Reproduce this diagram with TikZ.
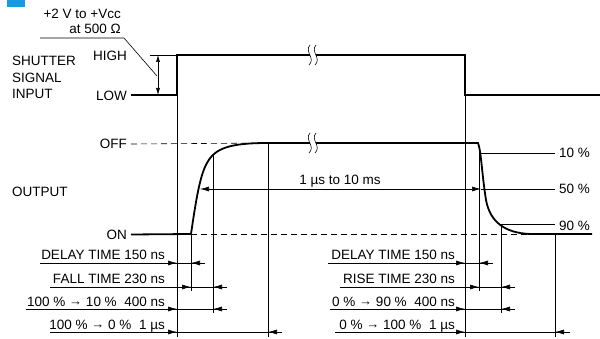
\documentclass[tikz,border=0pt]{standalone}
\usepackage{fontspec}
\setmainfont{Liberation Sans}
\usetikzlibrary{arrows.meta}
\definecolor{tabblue}{RGB}{20,155,225}
\newcommand{\pto}{\raisebox{0.5pt}{\fontsize{13}{13}\selectfont →}}

\begin{document}
\begin{tikzpicture}[x=1pt,y=-1pt,
  sig/.style={line width=1.8pt},
  guide/.style={line width=0.6pt},
  dimline/.style={line width=0.6pt,-{Latex[length=9pt,width=5pt]}},
  lbl/.style={inner sep=0pt,font=\fontsize{13.5}{16}\selectfont}
]
  \useasboundingbox (0,0) rectangle (600,339);
  \fill[tabblue] (7,0) rectangle (25,7);

  % input signal
  \node[lbl,anchor=base west] (shutter) at (12,66) {SHUTTER};
  \node[lbl,anchor=base west] (signal) at (12,82.5) {SIGNAL};
  \node[lbl,anchor=base west] (input) at (12,99) {INPUT};
  \node[lbl,anchor=east] (high) at (127,56) {HIGH};
  \node[lbl,anchor=east] (low) at (127,95.5) {LOW};
  \node[lbl,anchor=base east] (volt) at (121,19) {+2 V to +Vcc};
  \node[lbl,anchor=base east] (ohm) at (121,34) {at 500 Ω};

  \draw[sig] (131,95) -- (177,95) -- (177,55) -- (465,55) -- (465,95) -- (600,95);
  \draw[guide] (150,55) -- (177,55);
  \draw[guide,{Latex[length=7pt,width=4pt]}-{Latex[length=7pt,width=4pt]}] (158,55) -- (158,95);
  \coordinate (tag) at (124,38);
  \coordinate (swing) at (157,76);
  \draw[guide] (40,38) -- (tag) -- (swing);

  % output
  \node[lbl,anchor=west] (output) at (12,192) {OUTPUT};
  \node[lbl,anchor=east] (off) at (127,144) {OFF};
  \node[lbl,anchor=east] (on) at (127,234.5) {ON};
  \draw[guide,dashed,dash pattern=on 6pt off 4pt] (off.east) ++(4,0) -- (268,143);
  \draw[guide,dashed,dash pattern=on 6pt off 4pt] (191,234) -- (530,234);
  \draw[sig] (on.east) ++(4,0) -- (191,234)
    .. controls (196,200) and (200,175) .. (207,163)
    .. controls (215,148) and (230,143) .. (268,143) -- (478,143)
    .. controls (481,150) and (482,175) .. (486,200)
    .. controls (490,222) and (505,233) .. (530,234) -- (592,234);

  % breaks
  \foreach \y in {55,143} {
    \fill[white] (310,\y-5) rectangle (316,\y+5);
    \draw[guide] (310,\y-10) .. controls (304,\y-3) and (316,\y+3) .. (309,\y+10);
    \draw[guide] (316,\y-10) .. controls (310,\y-3) and (322,\y+3) .. (315,\y+10);
  }

  % guide lines
  \draw[guide] (177,95) -- (177,337);
  \draw[guide] (465,95) -- (465,337);
  \draw[guide] (191,234) -- (191,291);
  \draw[guide] (213,155) -- (213,313);
  \draw[guide] (268,143) -- (268,337);
  \draw[guide] (479,150) -- (479,291);
  \draw[guide] (501,224) -- (501,313);
  \draw[guide] (555,234) -- (555,337);

  \draw[guide] (481,153) -- (555,153);
  \draw[guide] (500,224) -- (555,224);
  \draw[guide,{Latex[length=9pt,width=5pt]}-{Latex[length=9pt,width=5pt]}] (200,189) -- (481,189);
  \draw[guide] (481,189) -- (555,189);
  \node[lbl,anchor=base] (span) at (340,185) {1 µs to 10 ms};
  \node[lbl,anchor=west] (p10) at (559,152.5) {10 \%};
  \node[lbl,anchor=west] (p50) at (559,189) {50 \%};
  \node[lbl,anchor=west] (p90) at (559,226) {90 \%};

  % time rows
  \foreach \y/\a/\l/\r/\b in {263/40/177/191/205, 287/50/191/213/227,
      309/26/177/213/227, 332/50/177/268/282,
      263/328/465/479/493, 287/340/479/501/515,
      309/330/465/501/515, 332/335/465/555/570} {
    \draw[guide] (\a,\y) -- (\b,\y);
    \draw[dimline] (\a,\y) -- (\l,\y);
    \draw[dimline] (\b,\y) -- (\r,\y);
  }
  \node[lbl,anchor=base east] (delayl) at (165,259.5) {DELAY TIME 150 ns};
  \node[lbl,anchor=base east] (fall) at (165,283.5) {FALL TIME 230 ns};
  \node[lbl,anchor=base east] (tenl) at (165,306) {100 \% \pto{} 10 \%\ \ 400 ns};
  \node[lbl,anchor=base east] (zerol) at (165,329) {100 \% \pto{} 0 \%\ \ 1 µs};
  \node[lbl,anchor=base east] (delayr) at (455,259.5) {DELAY TIME 150 ns};
  \node[lbl,anchor=base east] (rise) at (455,283.5) {RISE TIME 230 ns};
  \node[lbl,anchor=base east] (ninetyr) at (455,306) {0 \% \pto{} 90 \%\ \ 400 ns};
  \node[lbl,anchor=base east] (fullr) at (455,329) {0 \% \pto{} 100 \%\ \ 1 µs};
\end{tikzpicture}
\end{document}
